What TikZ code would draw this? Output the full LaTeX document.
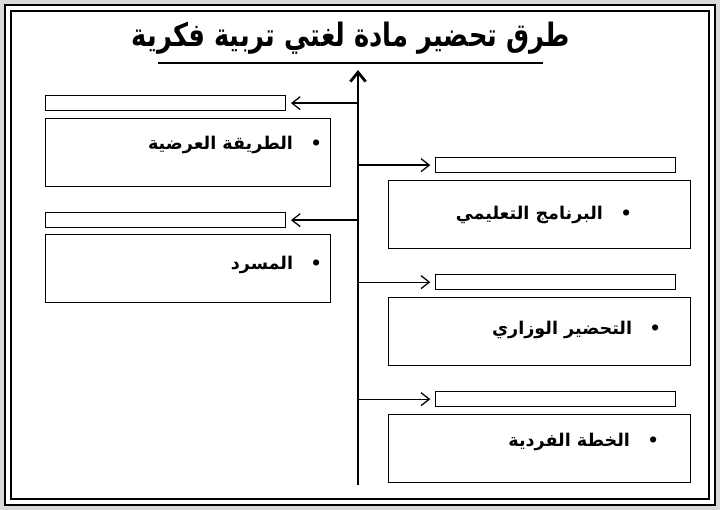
\documentclass[tikz,border=0pt]{standalone}
\usepackage{fontspec}
\newfontfamily\arabicfont[Script=Arabic]{DejaVu Sans}
\TeXXeTstate=1
\usetikzlibrary{arrows.meta}
\tikzstyle{bar}=[draw=black,line width=1.1pt,fill=white]
\tikzstyle{item}=[draw=black,line width=1.1pt,fill=white]
\tikzstyle{itemtext}=[anchor=east,font=\arabicfont\fontsize{15}{18}\selectfont\bfseries]
\tikzstyle{branch}=[-{Straight Barb[length=7pt,width=11pt]},draw=black,line width=1.1pt]
\begin{document}
\begin{tikzpicture}[x=0.03cm,y=-0.03cm]
	\useasboundingbox (0,0) rectangle (720,510);
	\fill [gray!30] (0,0) rectangle (720,510);
	\fill [white] (4,4) rectangle (716,506);
	\draw [line width=2.4pt] (5,5) rectangle (715,505);
	\draw [line width=0.9pt] (11,11) rectangle (709,499);
	% title
	\node [font=\arabicfont\fontsize{22}{26}\selectfont\bfseries,yscale=1.25] (title) at (351,38) {\beginR طرق تحضير مادة لغتي تربية فكرية\endR};
	\draw [line width=1.5pt] (158,63) -- (543,63);
	% trunk
	\coordinate (top) at (358,70);
	\coordinate (bottom) at (358,485);
	\draw [-{Straight Barb[length=8pt,width=13pt]},line width=2.4pt] (bottom) -- (top);
	% left side
	\node [bar,minimum width=240*0.03cm,minimum height=15*0.03cm,anchor=north west] (lb1) at (45,95) {};
	\node [item,minimum width=285*0.03cm,minimum height=68*0.03cm,anchor=north west] (lbox1) at (45,118) {};
	\node [bar,minimum width=240*0.03cm,minimum height=15*0.03cm,anchor=north west] (lb2) at (45,212) {};
	\node [item,minimum width=285*0.03cm,minimum height=68*0.03cm,anchor=north west] (lbox2) at (45,234) {};
	% right side
	\foreach \i/\y in {1/157,2/274,3/391}{
		\node [bar,minimum width=240*0.03cm,minimum height=15*0.03cm,anchor=north west] (rb\i) at (435,\y) {};
		\node [item,minimum width=302*0.03cm,minimum height=68*0.03cm,anchor=north west] (rbox\i) at (388,\y+23) {};
	}
	% branches
	\draw [branch] (lb1.east -| top) -- ([xshift=4]lb1.east);
	\draw [branch] (lb2.east -| top) -- ([xshift=4]lb2.east);
	\foreach \i in {1,2,3}{
		\draw [branch] (rb\i.west -| top) -- ([xshift=-4]rb\i.west);
	}
	% texts
	\node [itemtext] (t1) at (326,145) {\beginR •\quad الطريقة العرضية\endR};
	\node [itemtext] (t2) at (326,265) {\beginR •\quad المسرد\endR};
	\node [itemtext] (t3) at (636,215) {\beginR •\quad البرنامج التعليمي\endR};
	\node [itemtext] (t4) at (665,330) {\beginR •\quad التحضير الوزاري\endR};
	\node [itemtext] (t5) at (663,442) {\beginR •\quad الخطة الفردية\endR};
\end{tikzpicture}
\end{document}
